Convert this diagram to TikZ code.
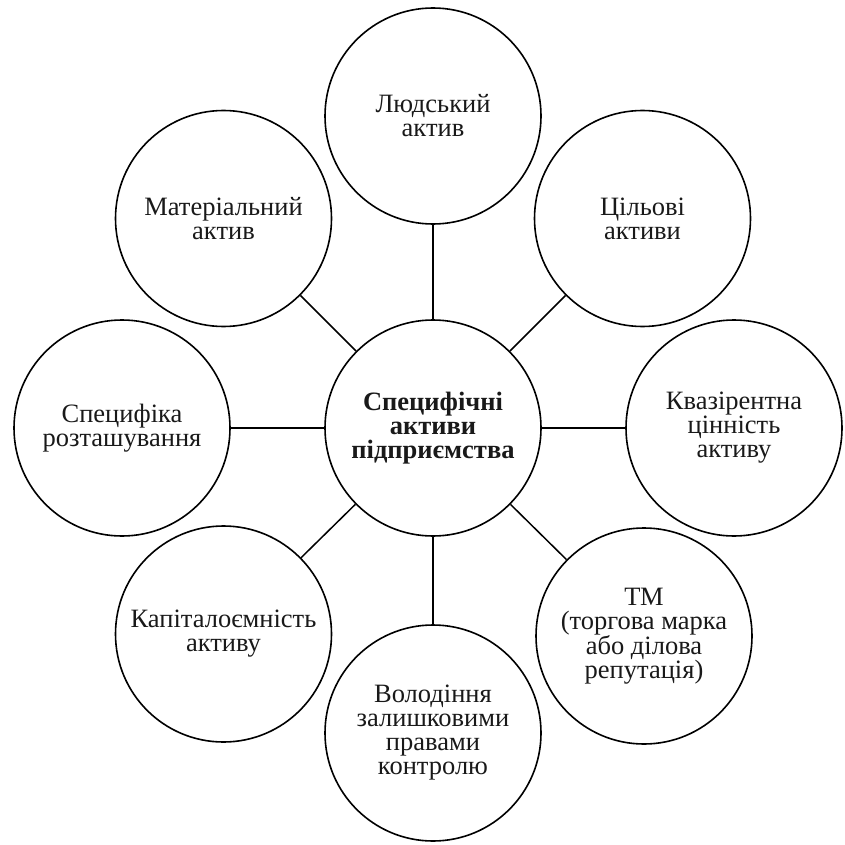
\documentclass[tikz,border=0pt]{standalone}
\usepackage{fontspec}
\setmainfont{Liberation Serif}
\begin{document}
\begin{tikzpicture}[x=1pt,y=-1pt,
  bub/.style={circle, draw, line width=1.6pt, minimum size=216pt, inner sep=0pt,
    align=center, text=black!90, font=\fontsize{26.5}{24}\selectfont},
  link/.style={line width=1.5pt}]
\useasboundingbox (0,0) rectangle (844,845);
\node[bub, font=\bfseries\fontsize{26.5}{24}\selectfont] (c) at (433,428) {Специфічні\\активи\\підприємства};
\node[bub] (n) at (433,116) {Людський\\актив};
\node[bub] (ne) at (642.5,218.5) {Цільові\\активи};
\node[bub] (e) at (734,428) {Квазірентна\\цінність\\активу};
\node[bub] (se) at (644,636) {ТМ\\(торгова марка\\або ділова\\репутація)};
\node[bub] (s) at (433,733) {Володіння\\залишковими\\правами\\контролю};
\node[bub] (sw) at (223.5,634) {Капіталоємність\\активу};
\node[bub] (w) at (122,428) {Специфіка\\розташування};
\node[bub] (nw) at (223.5,218.5) {Матеріальний\\актив};
\foreach \t in {n,ne,e,se,s,sw,w,nw} \draw[link] (c) -- (\t);
\end{tikzpicture}
\end{document}
